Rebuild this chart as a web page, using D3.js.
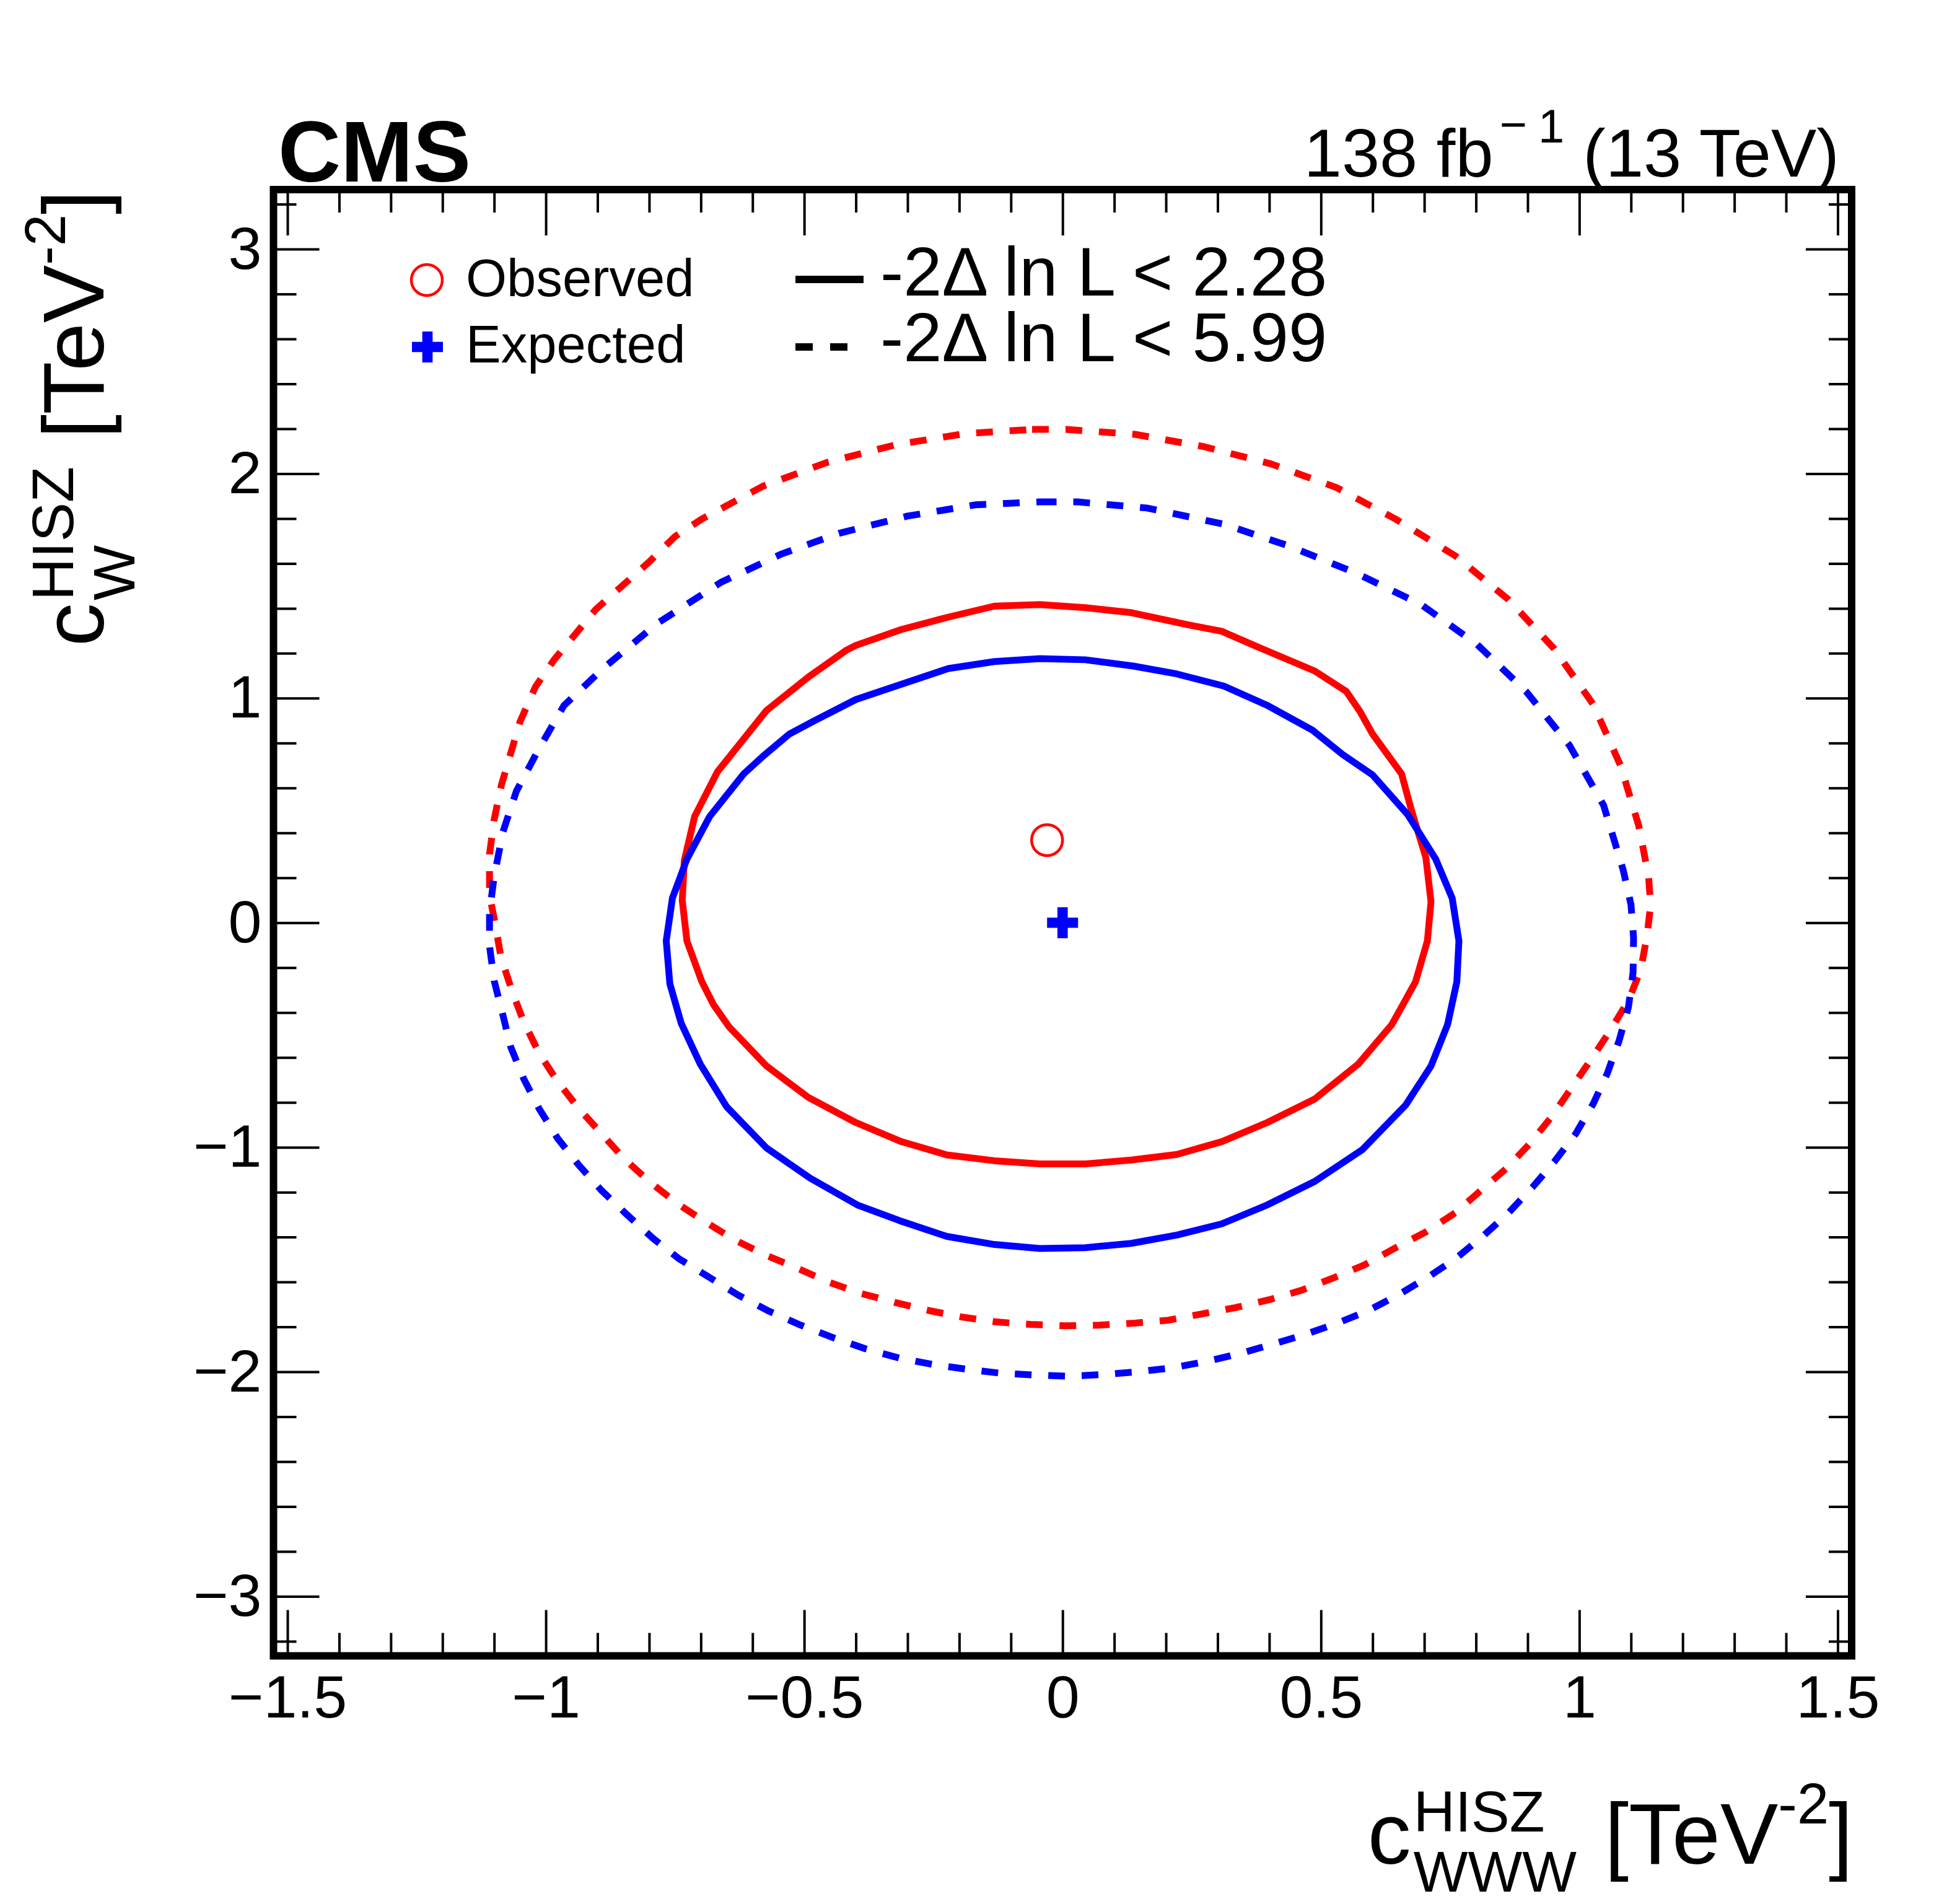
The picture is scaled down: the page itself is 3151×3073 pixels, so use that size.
<!DOCTYPE html>
<html>
<head>
<meta charset="utf-8">
<script src="https://cdn.jsdelivr.net/npm/d3@7"></script>
<style>
  body { margin: 0; background: #fff; }
  text { font-family: "Liberation Sans", Arial, Helvetica, sans-serif; }
</style>
</head>
<body>
<script>
// ---- data ----
var xTicks = [-1.5, -1, -0.5, 0, 0.5, 1, 1.5];
var xTickLabels = ["\u22121.5", "\u22121", "\u22120.5", "0", "0.5", "1", "1.5"];
var yTicks = [-3, -2, -1, 0, 1, 2, 3];
var yTickLabels = ["\u22123", "\u22122", "\u22121", "0", "1", "2", "3"];

var obsBest = [-0.030, 0.368];
var expBest = [0, 0];

// observed, -2 dlnL < 2.28
var obsContour68 = [[-0.132,1.41],[-0.044,1.417],[0.044,1.403],[0.133,1.381],[0.247,1.325],[0.308,1.298],
  [0.385,1.221],[0.488,1.121],[0.549,1.03],[0.576,0.939],[0.60,0.84],[0.656,0.663],[0.675,0.502],
  [0.703,0.291],[0.713,0.094],[0.706,-0.081],[0.683,-0.263],[0.656,-0.376],[0.637,-0.454],[0.572,-0.63],
  [0.488,-0.785],[0.396,-0.89],[0.308,-0.975],[0.221,-1.032],[0.133,-1.057],[0.044,-1.074],[-0.044,-1.074],
  [-0.132,-1.06],[-0.224,-1.034],[-0.312,-0.975],[-0.40,-0.89],[-0.492,-0.778],[-0.573,-0.638],
  [-0.646,-0.462],[-0.676,-0.363],[-0.698,-0.263],[-0.727,-0.081],[-0.736,0.10],[-0.732,0.277],
  [-0.712,0.473],[-0.668,0.672],[-0.573,0.945],[-0.492,1.094],[-0.419,1.213],[-0.40,1.235],
  [-0.312,1.306],[-0.221,1.361]];

// expected, -2 dlnL < 2.28
var expContour68 = [[-0.132,1.163],[-0.044,1.176],[0.044,1.171],[0.137,1.143],[0.221,1.108],[0.312,1.054],
  [0.397,0.967],[0.484,0.857],[0.542,0.749],[0.60,0.658],[0.668,0.481],[0.722,0.284],[0.754,0.109],
  [0.767,-0.081],[0.763,-0.263],[0.745,-0.454],[0.713,-0.638],[0.664,-0.812],[0.58,-1.011],[0.488,-1.152],
  [0.396,-1.257],[0.308,-1.341],[0.221,-1.391],[0.133,-1.428],[0.044,-1.447],[-0.044,-1.451],
  [-0.132,-1.433],[-0.224,-1.397],[-0.315,-1.327],[-0.397,-1.257],[-0.488,-1.138],[-0.573,-1.003],
  [-0.65,-0.82],[-0.701,-0.63],[-0.738,-0.448],[-0.760,-0.272],[-0.767,-0.081],[-0.755,0.11],
  [-0.727,0.283],[-0.683,0.473],[-0.617,0.663],[-0.580,0.741],[-0.529,0.84],[-0.484,0.895],
  [-0.40,0.994],[-0.308,1.065],[-0.221,1.132]];

// observed, -2 dlnL < 5.99
var obsContour95 = [[-0.059,2.197],[0.006,2.197],[0.14,2.175],[0.274,2.12],[0.404,2.043],[0.53,1.938],
  [0.645,1.797],[0.76,1.634],[0.863,1.439],[0.951,1.221],[1.027,0.972],[1.08,0.699],[1.115,0.432],
  [1.134,0.206],[1.138,0.08],[1.131,-0.059],[1.119,-0.208],[1.096,-0.342],[1.061,-0.476],[1.023,-0.608],
  [0.985,-0.735],[0.947,-0.862],[0.905,-0.982],[0.859,-1.094],[0.809,-1.193],[0.76,-1.292],[0.703,-1.377],
  [0.645,-1.447],[0.584,-1.524],[0.526,-1.58],[0.462,-1.637],[0.40,-1.679],[0.335,-1.714],[0.27,-1.742],
  [0.205,-1.77],[0.14,-1.783],[0.071,-1.792],[0.006,-1.795],[-0.062,-1.789],[-0.128,-1.778],
  [-0.195,-1.756],[-0.257,-1.728],[-0.323,-1.692],[-0.39,-1.651],[-0.452,-1.601],[-0.514,-1.538],
  [-0.573,-1.482],[-0.636,-1.411],[-0.69,-1.334],[-0.746,-1.25],[-0.80,-1.152],[-0.848,-1.052],
  [-0.892,-0.94],[-0.936,-0.828],[-0.977,-0.708],[-1.013,-0.581],[-1.043,-0.44],[-1.065,-0.307],
  [-1.087,-0.152],[-1.098,-0.004],[-1.109,0.123],[-1.109,0.305],[-1.10,0.459],[-1.086,0.613],
  [-1.068,0.754],[-1.05,0.895],[-1.02,1.051],[-0.984,1.171],[-0.903,1.396],[-0.80,1.607],[-0.75,1.72],
  [-0.698,1.798],[-0.58,1.944],[-0.456,2.05],[-0.324,2.128],[-0.19,2.178]];

// expected, -2 dlnL < 5.99
var expContour95 = [[-0.044,1.874],[0.029,1.874],[0.163,1.847],[0.312,1.775],[0.439,1.677],[0.568,1.557],
  [0.694,1.417],[0.802,1.24],[0.897,1.03],[0.981,0.79],[1.047,0.523],[1.085,0.234],[1.10,0.08],
  [1.105,-0.067],[1.104,-0.222],[1.095,-0.377],[1.077,-0.525],[1.054,-0.672],[1.027,-0.806],[0.993,-0.94],
  [0.951,-1.066],[0.909,-1.179],[0.863,-1.292],[0.813,-1.397],[0.76,-1.497],[0.706,-1.58],[0.649,-1.658],
  [0.591,-1.728],[0.53,-1.785],[0.469,-1.834],[0.408,-1.876],[0.343,-1.919],[0.278,-1.954],[0.213,-1.982],
  [0.144,-2.0],[0.079,-2.012],[0.014,-2.02],[-0.055,-2.014],[-0.121,-2.006],[-0.187,-1.988],[-0.25,-1.968],
  [-0.316,-1.939],[-0.382,-1.897],[-0.445,-1.847],[-0.507,-1.792],[-0.57,-1.728],[-0.628,-1.658],
  [-0.683,-1.58],[-0.742,-1.497],[-0.793,-1.405],[-0.844,-1.298],[-0.892,-1.193],[-0.936,-1.08],
  [-0.977,-0.961],[-1.013,-0.828],[-1.043,-0.694],[-1.068,-0.553],[-1.083,-0.412],[-1.10,-0.258],
  [-1.109,-0.103],[-1.109,0.045],[-1.10,0.206],[-1.083,0.404],[-1.057,0.586],[-1.013,0.776],
  [-0.965,0.967],[-0.888,1.135],[-0.785,1.332],[-0.661,1.516],[-0.543,1.643],[-0.433,1.734],
  [-0.30,1.811],[-0.169,1.861]];

var legendMarkers = ["Observed", "Expected"];
var legendLines = ["-2\u0394 ln L < 2.28", "-2\u0394 ln L < 5.99"];

// ---- layout ----
var width = 3151, height = 3073;
var plotL = 441.5, plotR = 2989, plotT = 306, plotB = 2672.5;
var red = "#ff0000", blue = "#0000ff";

var svg = d3.select("body").append("svg")
    .attr("width", width)
    .attr("height", height);
svg.append("rect").attr("width", width).attr("height", height).attr("fill", "#fff");

var x = d3.scaleLinear().domain([-1.527, 1.527]).range([plotL, plotR]);
var y = d3.scaleLinear().domain([-3.265, 3.265]).range([plotB, plotT]);

var xMinor = d3.range(-15, 16).map(function(d) { return d / 10; }).filter(function(d) { return xTicks.indexOf(d) < 0; });
var yMinor = d3.range(-16, 17).map(function(d) { return d / 5; }).filter(function(d) { return yTicks.indexOf(d) < 0; });

var major = 74, minor = 37;

function styleAxis(g) {
  g.select(".domain").remove();
  g.selectAll(".tick line").attr("stroke", "#000").attr("stroke-width", 4);
  g.attr("font-family", null).attr("font-size", null);
  g.selectAll(".tick text").attr("fill", "#000").attr("font-size", 97);
}

// bottom
svg.append("g").attr("transform", "translate(0," + plotB + ")")
   .call(d3.axisBottom(x).tickValues(xTicks).tickSizeInner(-major).tickPadding(31)
         .tickFormat(function(d, i) { return xTickLabels[i]; }))
   .call(styleAxis);
svg.append("g").attr("transform", "translate(0," + plotB + ")")
   .call(d3.axisBottom(x).tickValues(xMinor).tickSizeInner(-minor).tickFormat(""))
   .call(styleAxis);
// top
svg.append("g").attr("transform", "translate(0," + plotT + ")")
   .call(d3.axisTop(x).tickValues(xTicks).tickSizeInner(-major).tickFormat(""))
   .call(styleAxis);
svg.append("g").attr("transform", "translate(0," + plotT + ")")
   .call(d3.axisTop(x).tickValues(xMinor).tickSizeInner(-minor).tickFormat(""))
   .call(styleAxis);
// left
svg.append("g").attr("transform", "translate(" + plotL + ",0)")
   .call(d3.axisLeft(y).tickValues(yTicks).tickSizeInner(-major).tickPadding(19)
         .tickFormat(function(d, i) { return yTickLabels[i]; }))
   .call(styleAxis);
svg.append("g").attr("transform", "translate(" + plotL + ",0)")
   .call(d3.axisLeft(y).tickValues(yMinor).tickSizeInner(-minor).tickFormat(""))
   .call(styleAxis);
// right
svg.append("g").attr("transform", "translate(" + plotR + ",0)")
   .call(d3.axisRight(y).tickValues(yTicks).tickSizeInner(-major).tickFormat(""))
   .call(styleAxis);
svg.append("g").attr("transform", "translate(" + plotR + ",0)")
   .call(d3.axisRight(y).tickValues(yMinor).tickSizeInner(-minor).tickFormat(""))
   .call(styleAxis);

// contours
var line = d3.line()
    .x(function(d) { return x(d[0]); })
    .y(function(d) { return y(d[1]); })
    .curve(d3.curveLinearClosed);

var contours = [
  { pts: obsContour95, color: red, dash: "27,27" },
  { pts: expContour95, color: blue, dash: "27,27" },
  { pts: obsContour68, color: red, dash: null },
  { pts: expContour68, color: blue, dash: null }
];
svg.append("g").selectAll("path")
   .data(contours)
   .enter()
   .append("path")
   .attr("d", function(d) { return line(d.pts); })
   .attr("fill", "none")
   .attr("stroke", function(d) { return d.color; })
   .attr("stroke-width", 11)
   .attr("stroke-linejoin", "round")
   .attr("stroke-dasharray", function(d) { return d.dash; });

// best fit markers
var circleSym = d3.symbol(d3.symbolCircle, Math.PI * 25 * 25);
var crossSym = d3.symbol(d3.symbolCross, 1389);

svg.append("path").attr("d", circleSym())
   .attr("transform", "translate(" + x(obsBest[0]) + "," + y(obsBest[1]) + ")")
   .attr("fill", "none").attr("stroke", red).attr("stroke-width", 4.5);
svg.append("path").attr("d", crossSym())
   .attr("transform", "translate(" + x(expBest[0]) + "," + y(expBest[1]) + ")")
   .attr("fill", blue);

// frame
svg.append("rect")
   .attr("x", plotL).attr("y", plotT)
   .attr("width", plotR - plotL).attr("height", plotB - plotT)
   .attr("fill", "none").attr("stroke", "#000").attr("stroke-width", 12);

// legend: markers
var leg = svg.append("g");
leg.append("path").attr("d", circleSym()).attr("transform", "translate(689,452)")
   .attr("fill", "none").attr("stroke", red).attr("stroke-width", 4.5);
leg.append("path").attr("d", crossSym()).attr("transform", "translate(690,560)").attr("fill", blue);
leg.selectAll("text.mk").data(legendMarkers).enter().append("text")
   .attr("class", "mk")
   .attr("x", 752)
   .attr("y", function(d, i) { return 478 + i * 107; })
   .attr("font-size", 85)
   .text(function(d) { return d; });

// legend: line styles
leg.selectAll("line.ls").data([null, "28,28"]).enter().append("line")
   .attr("class", "ls")
   .attr("x1", 1284).attr("x2", 1394)
   .attr("y1", function(d, i) { return 451 + i * 109; })
   .attr("y2", function(d, i) { return 451 + i * 109; })
   .attr("stroke", "#000").attr("stroke-width", 12)
   .attr("stroke-dasharray", function(d) { return d; });
leg.selectAll("text.ls").data(legendLines).enter().append("text")
   .attr("class", "ls")
   .attr("x", 1421)
   .attr("y", function(d, i) { return 477 + i * 106; })
   .attr("font-size", 112)
   .text(function(d) { return d; });

// rich text: pieces laid left to right, optional stacking (sub under sup)
function richText(parent, parts, anchorEnd) {
  var g = parent.append("g");
  var cur = 0, lastStart = 0;
  parts.forEach(function(p) {
    var start = p.stack ? lastStart : cur + (p.gap || 0);
    var t = g.append("text")
      .attr("x", start)
      .attr("y", p.shift || 0)
      .attr("font-size", p.size)
      .attr("font-weight", p.bold ? "bold" : null)
      .text(p.text);
    var w = t.node().getComputedTextLength();
    lastStart = start;
    cur = Math.max(cur, start + w);
  });
  if (anchorEnd) g.attr("transform", "translate(" + (-cur) + ",0)");
  return g;
}

// CMS label
svg.append("text").attr("x", 449).attr("y", 293)
   .attr("font-size", 140).attr("font-weight", "bold").text("CMS");

// lumi label
richText(svg.append("g").attr("transform", "translate(2969,285)"), [
  { text: "138 fb", size: 110 },
  { text: "\u2212", size: 76, shift: -58, gap: 10 },
  { text: "1", size: 76, shift: -55, gap: 18 },
  { text: "(13 TeV)", size: 110, gap: 30 }
], true);

// x axis title
richText(svg.append("g").attr("transform", "translate(2991,3008)"), [
  { text: "c", size: 140 },
  { text: "HISZ", size: 93, shift: -52, gap: 4 },
  { text: "WWW", size: 93, shift: 45, stack: true },
  { text: "[TeV", size: 140, gap: 45 },
  { text: "-2", size: 92, shift: -65 },
  { text: "]", size: 140 }
], true);

// y axis title
richText(svg.append("g").attr("transform", "translate(167,307) rotate(-90)"), [
  { text: "c", size: 140 },
  { text: "HISZ", size: 95, shift: -49, gap: 4 },
  { text: "W", size: 95, shift: 50, stack: true },
  { text: "[TeV", size: 140, gap: 45 },
  { text: "-2", size: 92, shift: -62 },
  { text: "]", size: 140 }
], true);
</script>
</body>
</html>
